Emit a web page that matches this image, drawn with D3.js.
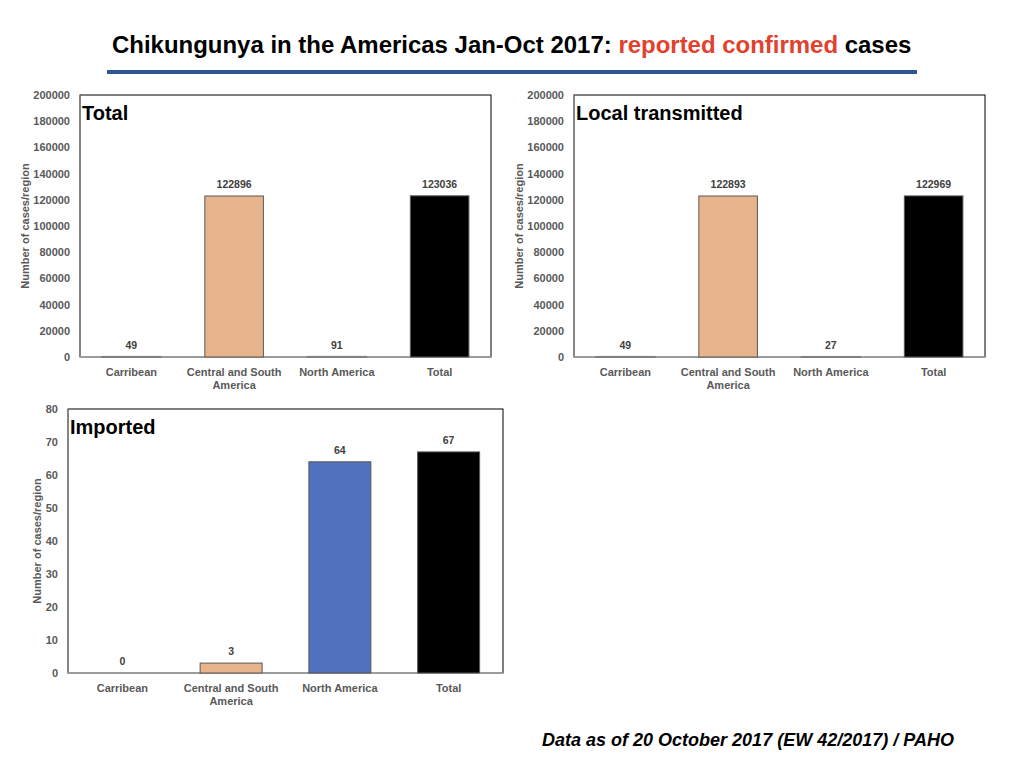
<!DOCTYPE html>
<html>
<head>
<meta charset="utf-8">
<script src="https://cdn.jsdelivr.net/npm/d3@7"></script>
<style>
    body { margin: 0; background: #fff; }
    svg { display: block; }
    .tick text { font-family: "Liberation Sans", Arial, sans-serif; font-weight: bold; font-size: 11px; fill: #595959; }
</style>
</head>
<body>
<svg id="chart" width="1024" height="768"></svg>
<script>
    // chart data
    var categories = ["Carribean", "Central and South America", "North America", "Total"];
    var totalValues = [49, 122896, 91, 123036];
    var localValues = [49, 122893, 27, 122969];
    var importedValues = [0, 3, 64, 67];
    var barColors = ["#a5a5a5", "#e8b48c", "#4f71be", "#000000"];
    var casesTicks = d3.range(0, 200001, 20000);
    var importedTicks = d3.range(0, 81, 10);

    var svg = d3.select("#chart");
    var font = "'Liberation Sans', Arial, sans-serif";

    // heading
    var title = svg.append("text")
        .attr("font-family", "'Liberation Sans Narrow', 'Liberation Sans', Arial, sans-serif")
        .attr("font-weight", "bold")
        .attr("font-size", "24px")
        .attr("fill", "#000");
    title.append("tspan").text("Chikungunya in the Americas Jan-Oct 2017: ");
    title.append("tspan").attr("fill", "#e2412d").text("reported confirmed");
    title.append("tspan").text(" cases");
    fitText(title, 112, 53, 800);

    svg.append("rect")
        .attr("x", 107)
        .attr("y", 70)
        .attr("width", 810)
        .attr("height", 4)
        .attr("fill", "#2f5597");

    var note = svg.append("text")
        .attr("font-family", font)
        .attr("font-weight", "bold")
        .attr("font-style", "italic")
        .attr("font-size", "18px")
        .attr("fill", "#000")
        .text("Data as of 20 October 2017 (EW 42/2017) / PAHO");
    fitText(note, 542, 746, 412);

    function fitText(sel, x, y, w) {
        var k = w / sel.node().getComputedTextLength();
        sel.attr("transform", "translate(" + x + "," + y + ") scale(" + k + ",1)");
    }

    drawPanel({ left: 80, top: 95, right: 491, bottom: 357, titleX: 25, label: "Total",
        values: totalValues, max: 200000, ticks: casesTicks });
    drawPanel({ left: 574, top: 95, right: 985, bottom: 357, titleX: 519, label: "Local transmitted",
        values: localValues, max: 200000, ticks: casesTicks });
    drawPanel({ left: 68, top: 409, right: 503, bottom: 673, titleX: 37, label: "Imported",
        values: importedValues, max: 80, ticks: importedTicks });

    function drawPanel(p) {
        var x = d3.scaleBand()
            .domain(categories)
            .range([p.left, p.right])
            .paddingInner(0.43)
            .paddingOuter(0.215);
        var y = d3.scaleLinear()
            .domain([0, p.max])
            .range([p.bottom, p.top]);

        var g = svg.append("g");

        g.append("rect")
            .attr("x", p.left)
            .attr("y", p.top)
            .attr("width", p.right - p.left)
            .attr("height", p.bottom - p.top)
            .attr("fill", "none")
            .attr("stroke", "#000")
            .attr("stroke-width", 1);

        var yAxis = g.append("g")
            .attr("transform", "translate(" + p.left + ",0)")
            .call(d3.axisLeft(y).tickValues(p.ticks).tickSize(0).tickPadding(10).tickFormat(d3.format("d")));
        yAxis.select(".domain").remove();

        g.append("line")
            .attr("x1", p.left).attr("x2", p.left)
            .attr("y1", p.top).attr("y2", p.bottom)
            .attr("stroke", "#8c8c8c");
        g.append("line")
            .attr("x1", p.left).attr("x2", p.right)
            .attr("y1", p.bottom).attr("y2", p.bottom)
            .attr("stroke", "#a6a6a6")
            .attr("stroke-width", 1.5);

        g.selectAll("rect.bar")
            .data(p.values)
            .enter().append("rect")
            .attr("class", "bar")
            .attr("x", function (d, i) { return x(categories[i]); })
            .attr("y", function (d) { return y(d); })
            .attr("width", x.bandwidth())
            .attr("height", function (d) { return y(0) - y(d); })
            .attr("fill", function (d, i) { return barColors[i]; })
            .attr("stroke", function (d) {
                if (d <= 0) return "none";
                return y(0) - y(d) < 1 ? "#808080" : "#595959";
            })
            .attr("stroke-width", function (d) { return y(0) - y(d) < 1 ? 2 : 1; });

        g.selectAll("text.value")
            .data(p.values)
            .enter().append("text")
            .attr("class", "value")
            .attr("x", function (d, i) { return x(categories[i]) + x.bandwidth() / 2; })
            .attr("y", function (d) { return y(d) - 8; })
            .attr("text-anchor", "middle")
            .attr("font-family", font)
            .attr("font-weight", "bold")
            .attr("font-size", "10.5px")
            .attr("fill", "#404040")
            .text(function (d) { return d; });

        var cat = g.selectAll("text.cat")
            .data(categories)
            .enter().append("text")
            .attr("class", "cat")
            .attr("text-anchor", "middle")
            .attr("font-family", font)
            .attr("font-weight", "bold")
            .attr("font-size", "11px")
            .attr("fill", "#595959");
        cat.each(function (d) {
            var el = d3.select(this);
            var cx = x(d) + x.bandwidth() / 2;
            var lines = d === "Central and South America" ? ["Central and South", "America"] : [d];
            lines.forEach(function (line, i) {
                el.append("tspan")
                    .attr("x", cx)
                    .attr("y", p.bottom + 19 + i * 13)
                    .text(line);
            });
        });

        g.append("text")
            .attr("transform", "translate(" + p.titleX + "," + ((p.top + p.bottom) / 2) + ") rotate(-90)")
            .attr("text-anchor", "middle")
            .attr("dy", "0.35em")
            .attr("font-family", font)
            .attr("font-weight", "bold")
            .attr("font-size", "11px")
            .attr("fill", "#595959")
            .text("Number of cases/region");

        g.append("text")
            .attr("x", p.left + 2)
            .attr("y", p.top + 25)
            .attr("font-family", font)
            .attr("font-weight", "bold")
            .attr("font-size", "20px")
            .attr("fill", "#000")
            .text(p.label);
    }
</script>
</body>
</html>
